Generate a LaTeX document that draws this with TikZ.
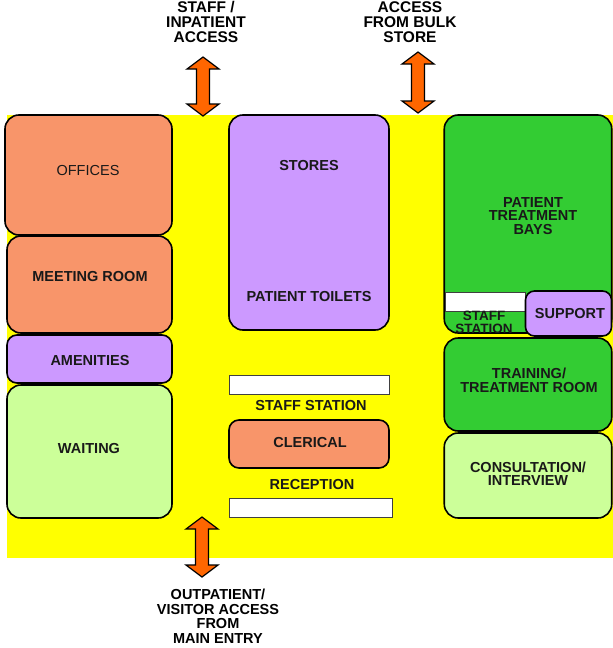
\documentclass[tikz,border=0pt]{standalone}
\usepackage{fontspec}
\setmainfont{Liberation Sans}
\usetikzlibrary{positioning}

\definecolor{planyellow}{HTML}{FFFF00}
\definecolor{salmon}{HTML}{F8956A}
\definecolor{lilac}{HTML}{CC99FF}
\definecolor{bedgreen}{HTML}{33CC33}
\definecolor{palegreen}{HTML}{CCFF99}
\definecolor{doororange}{HTML}{FF6600}

\tikzset{
  room/.style={draw=black, line width=1.6pt, rounded corners=14pt, inner sep=0pt},
  desk/.style={draw=black!75, line width=0.8pt, fill=white, inner sep=0pt},
  txt/.style={font=\bfseries\fontsize{14.5}{13.5}\selectfont, text=black!90, align=center},
  accesstxt/.style={font=\bfseries\fontsize{15.5}{14.8}\selectfont, align=center},
  door/.style={draw=black, line width=1.2pt, fill=doororange, line join=miter}
}

% double headed access arrow: centre x, top tip y, bottom tip y
\newcommand{\accessarrow}[3]{
  \draw[door] (#1,#2) -- (#1+16,#2+12) -- (#1+6.5,#2+12) -- (#1+6.5,#3-12)
    -- (#1+16,#3-12) -- (#1,#3) -- (#1-16,#3-12) -- (#1-6.5,#3-12)
    -- (#1-6.5,#2+12) -- (#1-16,#2+12) -- cycle;
}

\begin{document}
\begin{tikzpicture}[x=1pt, y=-1pt]
  \useasboundingbox (0,0) rectangle (613,648);

  \fill[planyellow] (7,115) rectangle (613,558);

  % left wing
  \node[room, fill=salmon, minimum width=167, minimum height=120] (offices) at (88.5,175) {};
  \node[room, fill=salmon, minimum width=165, minimum height=97] (meeting) at (89.5,284.5) {};
  \node[room, fill=lilac, rounded corners=10pt, minimum width=165, minimum height=48] (amenities) at (89.5,359) {};
  \node[room, fill=palegreen, minimum width=165, minimum height=133] (waiting) at (89.5,451.5) {};

  % centre
  \node[room, fill=lilac, minimum width=160, minimum height=215] (stores) at (309,222.5) {};
  \node[desk, minimum width=160, minimum height=19] (staffdesk) at (309,384.5) {};
  \node[room, fill=salmon, rounded corners=10pt, minimum width=160, minimum height=48] (clerical) at (309,444) {};
  \node[desk, minimum width=163, minimum height=19] (receptiondesk) at (310.5,507.5) {};

  % right wing
  \node[room, fill=bedgreen, minimum width=167.5, minimum height=218] (bays) at (528,224) {};
  \node[desk, minimum width=80, minimum height=19] (baysdesk) at (485,301.5) {};
  \node[room, fill=lilac, rounded corners=9pt, minimum width=86, minimum height=45] (support) at (568.5,313.5) {};
  \node[room, fill=bedgreen, minimum width=167.5, minimum height=93] (training) at (528,384.5) {};
  \node[room, fill=palegreen, minimum width=167.5, minimum height=85] (consult) at (528,475.5) {};

  % room names
  \node[txt, font=\fontsize{14.5}{13}\selectfont] (officestxt) at (88,171) {OFFICES};
  \node[txt] (meetingtxt) at (90,277) {MEETING ROOM};
  \node[txt] (amenitiestxt) at (90,361) {AMENITIES};
  \node[txt] (waitingtxt) at (89,449) {WAITING};
  \node[txt] (storestxt) at (309,166) {STORES};
  \node[txt] (toiletstxt) at (309,297) {PATIENT TOILETS};
  \node[txt] (staffstationtxt) at (311,406) {STAFF STATION};
  \node[txt] (clericaltxt) at (310,443) {CLERICAL};
  \node[txt] (receptiontxt) at (312,485) {RECEPTION};
  \node[txt] (baystxt) at (533,216) {PATIENT\\TREATMENT\\BAYS};
  \node[txt, font=\bfseries\fontsize{13.5}{13}\selectfont] (baysdesktxt) at (484,322) {STAFF\\STATION};
  \node[txt] (supporttxt) at (570,314) {SUPPORT};
  \node[txt] (trainingtxt) at (529,380.5) {TRAINING/\\TREATMENT ROOM};
  \node[txt] (consulttxt) at (528,473.5) {CONSULTATION/\\INTERVIEW};

  % access points
  \accessarrow{203}{57}{116}
  \accessarrow{418}{52}{113}
  \accessarrow{202}{517}{577}

  \node[accesstxt] (staffaccess) at (206,22) {STAFF /\\INPATIENT\\ACCESS};
  \node[accesstxt] (bulkaccess) at (410,22) {ACCESS\\FROM BULK\\STORE};
  \node[accesstxt, font=\bfseries\fontsize{14.5}{14.5}\selectfont] (mainaccess) at (218,616) {OUTPATIENT/\\VISITOR ACCESS\\FROM\\MAIN ENTRY};
\end{tikzpicture}
\end{document}
